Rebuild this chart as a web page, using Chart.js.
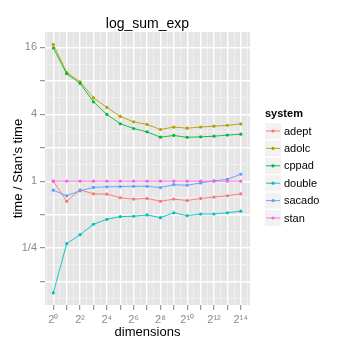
<!DOCTYPE html>
<html>
<head>
<meta charset="utf-8">
<script src="https://cdn.jsdelivr.net/npm/chart.js@4/dist/chart.umd.min.js"></script>
<style>
  html, body { margin: 0; padding: 0; background: #fff; }
  #wrap { width: 346px; height: 346px; }
</style>
</head>
<body>
<div id="wrap"><canvas id="myChart" width="346" height="346"></canvas></div>
<script>
// dimensions are powers of two, time is relative to stan
const dims = [1, 2, 4, 8, 16, 32, 64, 128, 256, 512, 1024, 2048, 4096, 8192, 16384];
const systems = ['adept', 'adolc', 'cppad', 'double', 'sacado', 'stan'];
const colors = ['#F8766D', '#B79F00', '#00BA38', '#00BFC4', '#619CFF', '#F564E3'];

const adept  = [1.0, 0.66, 0.835, 0.77, 0.765, 0.71, 0.69, 0.70, 0.66, 0.69, 0.67, 0.70, 0.72, 0.74, 0.77];
const adolc  = [17.0, 9.5, 7.85, 5.63, 4.62, 3.83, 3.42, 3.24, 2.92, 3.07, 3.0, 3.07, 3.13, 3.18, 3.28];
const cppad  = [15.8, 9.27, 7.59, 5.18, 3.99, 3.29, 2.98, 2.78, 2.49, 2.58, 2.48, 2.51, 2.54, 2.60, 2.65];
const double = [0.099, 0.274, 0.33, 0.41, 0.454, 0.48, 0.484, 0.497, 0.47, 0.52, 0.49, 0.507, 0.507, 0.52, 0.537];
const sacado = [0.83, 0.74, 0.82, 0.88, 0.89, 0.895, 0.90, 0.90, 0.877, 0.93, 0.92, 0.965, 1.006, 1.04, 1.157];
const stan   = [1, 1, 1, 1, 1, 1, 1, 1, 1, 1, 1, 1, 1, 1, 1];

const yTickLabels = { '4': '16', '2': '4', '0': '1', '-2': '1/4' };
const sup = { '0': '\u2070', '1': '\u00B9', '2': '\u00B2', '3': '\u00B3', '4': '\u2074',
              '5': '\u2075', '6': '\u2076', '7': '\u2077', '8': '\u2078', '9': '\u2079' };

const FONT = "'Liberation Sans', Arial, sans-serif";
const seriesData = [adept, adolc, cppad, double, sacado, stan];

const datasets = systems.map((name, i) => ({
    label: name,
    data: dims.map((d, j) => ({ x: Math.log2(d), y: Math.log2(seriesData[i][j]) })),
    borderColor: colors[i],
    backgroundColor: colors[i],
    borderWidth: 0.9,
    pointRadius: 1.6,
    pointBorderWidth: 0,
    pointBackgroundColor: colors[i],
    order: systems.length - i,
    fill: false,
}));

function isWhole(v) { return Math.abs(v - Math.round(v)) < 1e-6; }

function halfTicks(lo, hi) {
    const t = [];
    for (let v = lo; v <= hi + 1e-9; v += 0.5) t.push({ value: v });
    return t;
}

const gridOpts = {
    color: c => isWhole(c.tick.value) ? '#FFFFFF' : '#F2F2F2',
    lineWidth: c => isWhole(c.tick.value) ? 1.4 : 0.8,
    tickColor: c => isWhole(c.tick.value) ? '#7F7F7F' : 'rgba(0,0,0,0)',
    tickLength: 5,
    tickWidth: 1,
    drawOnChartArea: true,
};

// panel background, title and the ggplot-like legend
const decor = {
    id: 'decor',
    beforeDraw(chart) {
        const { ctx, chartArea: a } = chart;
        ctx.save();
        ctx.fillStyle = '#E5E5E5';
        ctx.fillRect(a.left, a.top, a.right - a.left, a.bottom - a.top);
        ctx.restore();
    },
    afterDraw(chart) {
        const { ctx, chartArea: a } = chart;
        ctx.save();
        ctx.fillStyle = '#000';
        ctx.font = '14px ' + FONT;
        ctx.textAlign = 'center';
        ctx.textBaseline = 'middle';
        ctx.fillText('log_sum_exp', (a.left + a.right) / 2, 24);

        const lx = 265, ly = 114;
        ctx.textAlign = 'left';
        ctx.font = 'bold 11px ' + FONT;
        ctx.fillText('system', lx, ly);
        ctx.font = '11px ' + FONT;
        systems.forEach((name, i) => {
            const cy = 131 + i * 17.4;
            ctx.fillStyle = '#F2F2F2';
            ctx.fillRect(lx, cy - 8, 16, 16);
            ctx.strokeStyle = colors[i];
            ctx.lineWidth = 0.9;
            ctx.beginPath();
            ctx.moveTo(lx + 1, cy);
            ctx.lineTo(lx + 15, cy);
            ctx.stroke();
            ctx.fillStyle = colors[i];
            ctx.beginPath();
            ctx.arc(lx + 8, cy, 1.6, 0, Math.PI * 2);
            ctx.fill();
            ctx.fillStyle = '#000';
            ctx.fillText(name, lx + 19, cy + 0.5);
        });
        ctx.restore();
    }
};

const ctx = document.getElementById('myChart').getContext('2d');
const myChart = new Chart(ctx, {
    type: 'line',
    data: { datasets: datasets },
    plugins: [decor],
    options: {
        responsive: false,
        animation: false,
        layout: { padding: { top: 32, right: 96, left: 0, bottom: 0 } },
        plugins: {
            legend: { display: false },
            title: { display: false },
            tooltip: { enabled: false },
        },
        scales: {
            x: {
                type: 'linear',
                position: 'bottom',
                min: -0.62,
                max: 14.69,
                afterBuildTicks: s => { s.ticks = halfTicks(-0.5, 14.5); },
                afterFit: s => { s.height = 41; },
                grid: gridOpts,
                border: { display: false },
                ticks: {
                    autoSkip: false,
                    maxRotation: 0,
                    padding: 3,
                    color: '#8A8A8A',
                    font: { family: FONT, size: 11 },
                    callback: v => (isWhole(v) && Math.round(v) % 2 === 0)
                        ? '2' + String(Math.round(v)).split('').map(c => sup[c]).join('') : '',
                },
                title: {
                    display: true,
                    text: 'dimensions',
                    color: '#000',
                    font: { family: FONT, size: 13 },
                    padding: { top: 0, bottom: 6 },
                },
            },
            y: {
                type: 'linear',
                min: -3.70,
                max: 4.46,
                afterBuildTicks: s => { s.ticks = halfTicks(-3.5, 4); },
                afterFit: s => { s.width = 45; },
                grid: gridOpts,
                border: { display: false },
                ticks: {
                    autoSkip: false,
                    padding: 3,
                    color: '#8A8A8A',
                    font: { family: FONT, size: 11 },
                    callback: v => isWhole(v) ? (yTickLabels[String(Math.round(v))] || '') : '',
                },
                title: {
                    display: true,
                    text: "time / Stan's time",
                    color: '#000',
                    font: { family: FONT, size: 13 },
                    padding: { top: 11, bottom: 0 },
                },
            },
        },
    },
});
</script>
</body>
</html>
